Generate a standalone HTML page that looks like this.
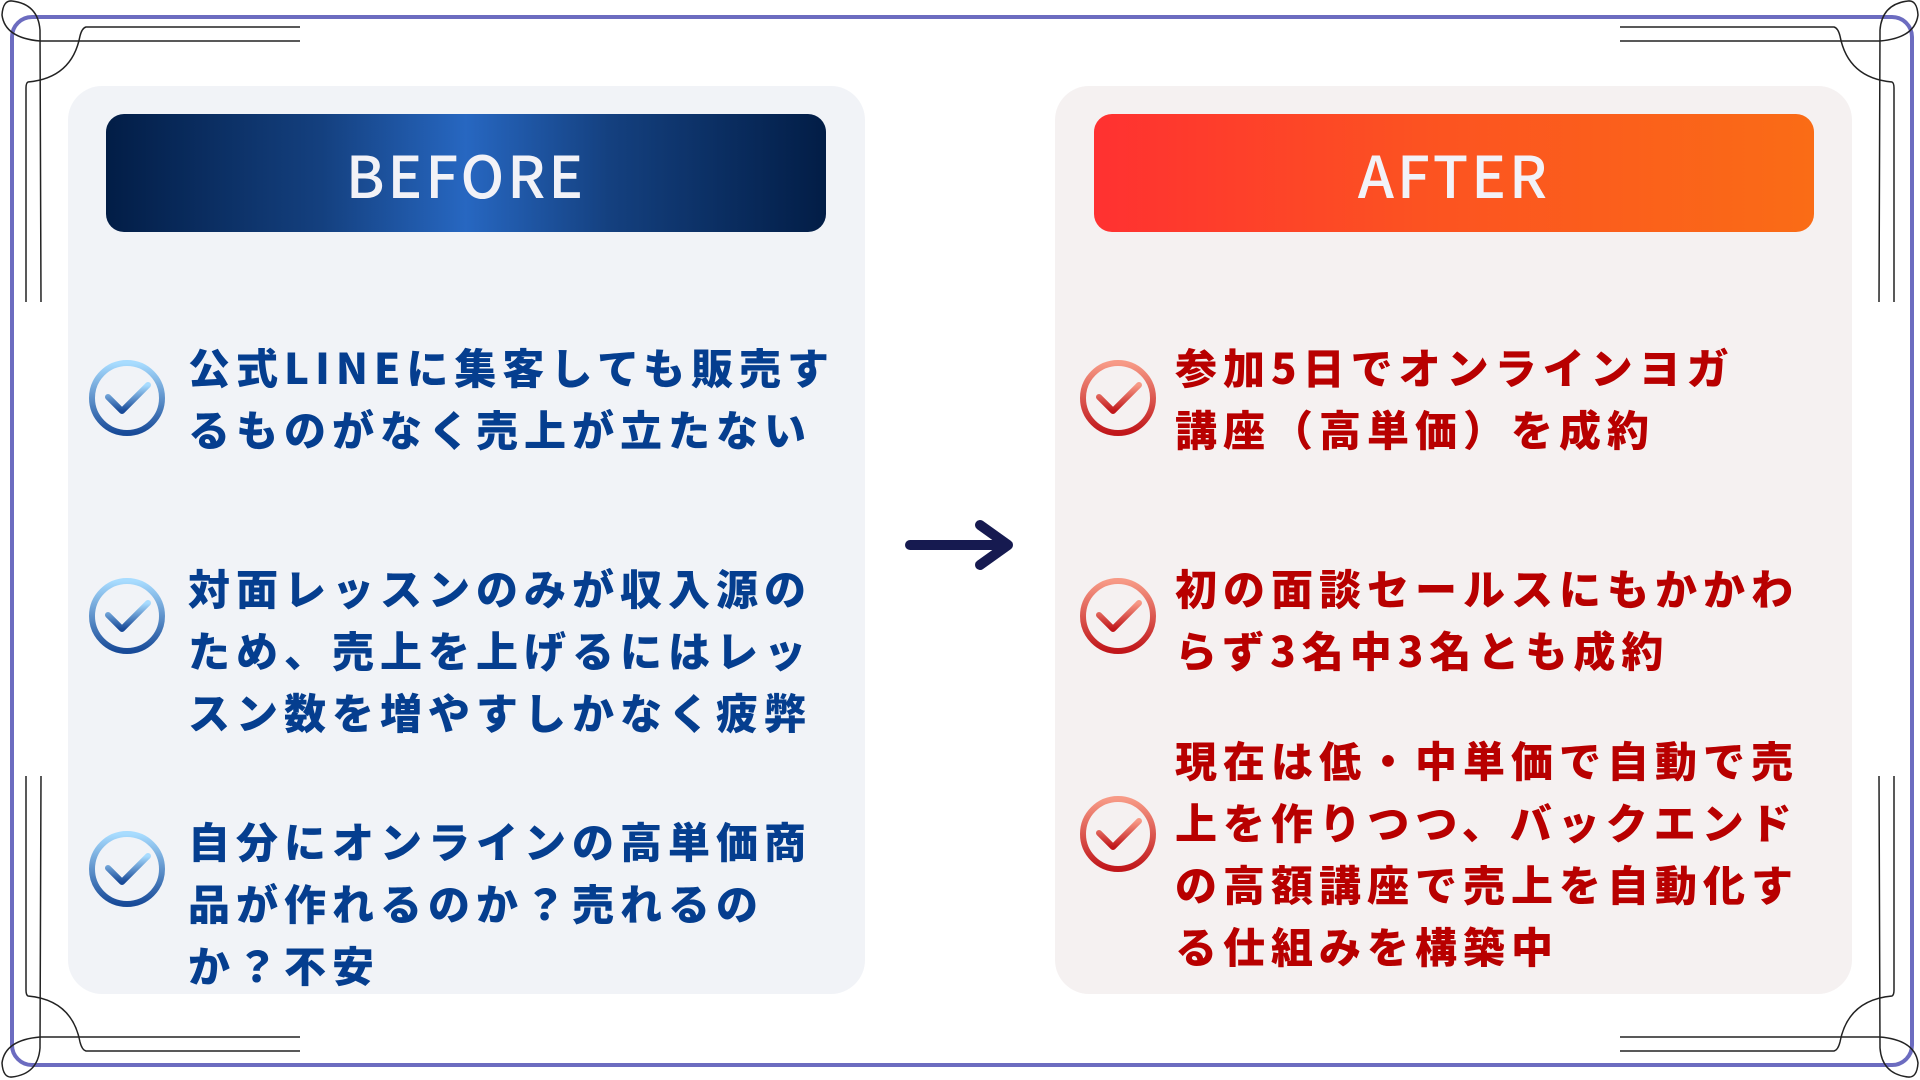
<!DOCTYPE html>
<html><head><meta charset="utf-8"><style>
html,body{margin:0;padding:0;width:1920px;height:1080px;overflow:hidden;background:#fff;}
body{position:relative;font-family:"Noto Sans CJK JP","Liberation Sans",sans-serif;}
.frame{position:absolute;left:10px;top:15px;width:1896px;height:1044px;border:4px solid #6c6cc0;border-radius:22px;box-sizing:content-box;}
.panel{position:absolute;top:86px;width:797px;height:908px;border-radius:34px;}
.hdr{position:absolute;top:114px;width:720px;height:118px;border-radius:18px;color:#f2f2f7;font-size:58px;line-height:118px;text-align:center;letter-spacing:3px;font-weight:500;}
.txt{position:absolute;font-size:42px;line-height:62px;font-weight:900;letter-spacing:6px;white-space:nowrap;}
.b{color:#053e8f;left:188px;}
.r{color:#b80000;left:1175px;}
</style></head><body>
<div class="frame"></div>
<div class="panel" style="left:68px;background:#f1f3f7;"></div>
<div class="panel" style="left:1055px;background:#f5f1f1;"></div>
<div class="hdr" style="left:106px;background:linear-gradient(90deg,#021d46 0%,#14407f 30%,#2767c1 50%,#14407f 70%,#021d46 100%);">BEFORE</div>
<div class="hdr" style="left:1094px;background:linear-gradient(90deg,#ff3131 0%,#fc5221 45%,#fa6c16 100%);">AFTER</div>

<svg width="1920" height="1080" style="position:absolute;left:0;top:0" fill="none">
<defs>
<linearGradient id="gb" x1="0" y1="0" x2="0" y2="1"><stop offset="0" stop-color="#a8dcff"/><stop offset="1" stop-color="#184a98"/></linearGradient>
<linearGradient id="gr" x1="0" y1="0" x2="0" y2="1"><stop offset="0" stop-color="#f79a86"/><stop offset="1" stop-color="#c0161a"/></linearGradient>
<g id="corner" stroke="#222" stroke-width="1.5">
<path d="M300 27 L86 27 Q82 28 80 36 Q72 78 28 82 Q26 83 26 88 L26 302"/>
<path d="M300 41 L40 41 Q5 38 2 15 Q3 0 12 1 Q38 4 40 30 L41 302"/>
</g>
</defs>
<use href="#corner"/>
<use href="#corner" transform="translate(1920,0) scale(-1,1)"/>
<use href="#corner" transform="translate(0,1078) scale(1,-1)"/>
<use href="#corner" transform="translate(1920,1078) scale(-1,-1)"/>
<g stroke="#161a50" stroke-width="10" stroke-linecap="round" stroke-linejoin="round">
<path d="M910 545 L1008 545 M980 525 L1008 545 L980 565"/>
</g>
<g stroke="url(#gb)" stroke-width="6" stroke-linecap="round" stroke-linejoin="round">
<circle cx="127" cy="398" r="35"/><path d="M108 397 L122 411 L148 385"/>
<circle cx="127" cy="616" r="35"/><path d="M108 615 L122 629 L148 603"/>
<circle cx="127" cy="869" r="35"/><path d="M108 868 L122 882 L148 856"/>
</g>
<g stroke="url(#gr)" stroke-width="6" stroke-linecap="round" stroke-linejoin="round">
<circle cx="1118" cy="398" r="35"/><path d="M1099 397 L1113 411 L1139 385"/>
<circle cx="1118" cy="616" r="35"/><path d="M1099 615 L1113 629 L1139 603"/>
<circle cx="1118" cy="834" r="35"/><path d="M1099 833 L1113 847 L1139 821"/>
</g>
</svg>

<div class="txt b" style="top:336px">公式LINEに集客しても販売す<br>るものがなく売上が立たない</div>
<div class="txt b" style="top:557px">対面レッスンのみが収入源の<br>ため、売上を上げるにはレッ<br>スン数を増やすしかなく疲弊</div>
<div class="txt b" style="top:810px">自分にオンラインの高単価商<br>品が作れるのか？売れるの<br>か？不安</div>

<div class="txt r" style="top:336px">参加5日でオンラインヨガ<br>講座（高単価）を成約</div>
<div class="txt r" style="top:557px">初の面談セールスにもかかわ<br>らず3名中3名とも成約</div>
<div class="txt r" style="top:729px">現在は低・中単価で自動で売<br>上を作りつつ、バックエンド<br>の高額講座で売上を自動化す<br>る仕組みを構築中</div>
</body></html>
